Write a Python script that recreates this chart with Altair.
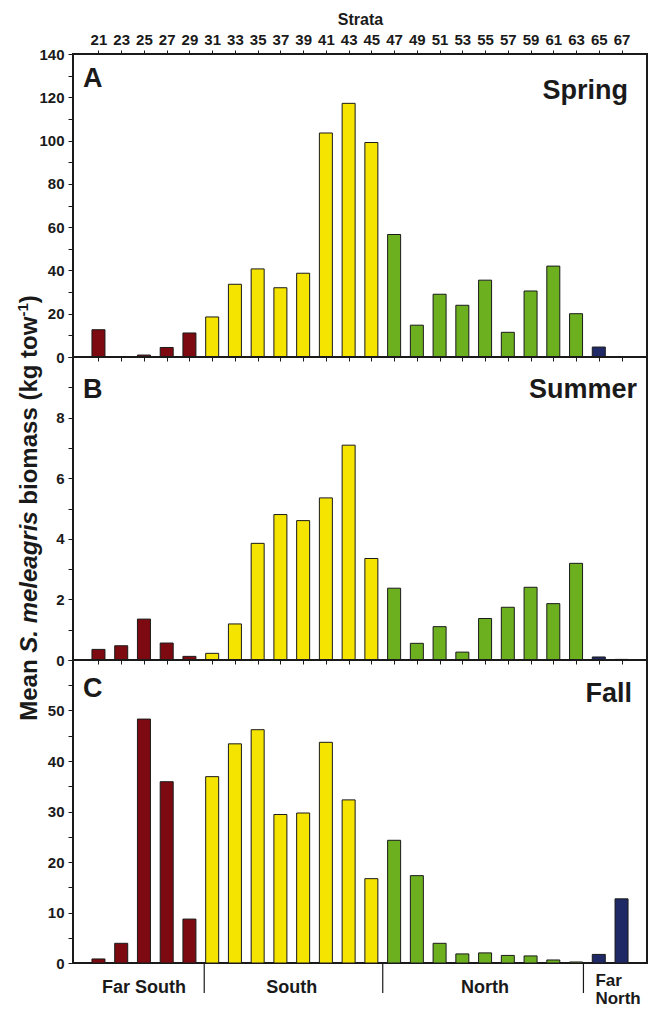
import altair as alt
import pandas as pd

# ---------------- data ----------------
strata = list(range(21, 68, 2))
regions = ["Far South"] * 5 + ["South"] * 8 + ["North"] * 9 + ["Far North"] * 2
spring = [12.6, 0.2, 0.9, 4.4, 11.1, 18.5, 33.6, 40.7, 32.0, 38.7, 103.5, 117.2,
          99.1, 56.6, 14.7, 29.0, 23.9, 35.5, 11.4, 30.5, 42.0, 20.0, 4.6, 0.0]
summer = [0.35, 0.47, 1.35, 0.56, 0.12, 0.22, 1.19, 3.85, 4.80, 4.60, 5.35, 7.09,
          3.35, 2.37, 0.55, 1.10, 0.26, 1.37, 1.74, 2.40, 1.86, 3.19, 0.10, 0.02]
fall = [0.8, 3.9, 48.3, 35.9, 8.7, 36.9, 43.4, 46.2, 29.4, 29.7, 43.7, 32.3,
        16.7, 24.3, 17.3, 3.9, 1.8, 2.0, 1.5, 1.4, 0.6, 0.2, 1.7, 12.7]

region_names = ["Far South", "South", "North", "Far North"]
region_colors = ["#7d0a10", "#f5e400", "#6cb020", "#1f2966"]

region_label_text = ["Far South", "South", "North"]
region_label_pos = [25, 38, 55]
far_north_pos = 64.7
divider_pos = [30.3, 46, 63.65]

# ---------------- layout ----------------
FONT = "Liberation Sans"
INK = "#1a1a1a"
W_PX = 574
H_PX = 303
X_DOMAIN = [19.2, 68.8]
xscale = alt.Scale(domain=X_DOMAIN, nice=False, zero=False)


def bars_layer(values, ymax, yvalues, label_expr):
    df = pd.DataFrame({"strata": strata, "value": values, "region": regions})
    return alt.Chart(df).mark_bar(size=13, stroke=INK, strokeWidth=1).encode(
        x=alt.X("strata:Q", scale=xscale,
                axis=alt.Axis(orient="bottom", values=strata, labels=False, domain=False,
                              ticks=True, tickSize=4, grid=False, title=None)),
        y=alt.Y("value:Q", scale=alt.Scale(domain=[0, ymax], nice=False),
                axis=alt.Axis(values=yvalues, labelExpr=label_expr, title=None, domain=False,
                              tickSize=5, grid=False, labelPadding=4, labelOverlap=False)),
        color=alt.Color("region:N", scale=alt.Scale(domain=region_names, range=region_colors),
                        legend=None),
    )


def label(text, x, y, size, align="left", style="normal", baseline="alphabetic", angle=0):
    return alt.Chart(pd.DataFrame({"t": [text]})).mark_text(
        font=FONT, fontWeight="bold", fontSize=size, align=align, baseline=baseline,
        fontStyle=style, angle=angle, color=INK
    ).encode(text="t:N", x=alt.value(x), y=alt.value(y))


# ---- panel A ----
barsA = bars_layer(spring, 140, list(range(0, 141, 10)),
                   "datum.value % 20 == 0 ? datum.label : ''")
topAxis = alt.Chart(pd.DataFrame({"strata": strata})).mark_point(opacity=0).encode(
    x=alt.X("strata:Q", scale=xscale,
            axis=alt.Axis(orient="top", values=strata, title="Strata", titleFontSize=16,
                          titleFontWeight="bold", titleFont=FONT, titleColor=INK,
                          tickSize=4, labelPadding=3, titlePadding=5, domain=False,
                          grid=False, labelOverlap=False, labelFlush=False)),
)
panelA = alt.layer(
    barsA, topAxis,
    label("A", 10, 33, 27),
    label("Spring", 555, 45, 27, align="right"),
).resolve_axis(x="independent").properties(width=W_PX, height=H_PX)

# ---- panel B (with y title) ----
barsB = bars_layer(summer, 10, list(range(0, 11)),
                   "datum.value % 2 == 0 && datum.value < 10 ? datum.label : ''")

AW = {'M': 833, 'e': 556, 'a': 556, 'n': 611, ' ': 278, 'S': 667, '.': 278, 'm': 889,
      'l': 278, 'g': 611, 'r': 389, 'i': 278, 's': 556, 'b': 611, 'o': 611, '(': 333,
      'k': 556, 't': 333, 'w': 778, ')': 333, '-': 333, '1': 556}


def tw(s, fs):
    return sum(AW.get(c, 556) for c in s) * fs / 1000.0


TFS = 24
SUPFS = 15
segs = [("Mean", "normal", TFS, 0, tw(" ", TFS)),
        ("S. meleagris", "italic", TFS, 0, tw(" ", TFS)),
        ("biomass (kg tow", "normal", TFS, 0, 0.0),
        ("-1", "normal", SUPFS, -9, 0.0),
        (")", "normal", TFS, 0, 0.0)]
total = sum(tw(s, f) + gap for s, _, f, _, gap in segs)
title_center = 151
title_x = -36
ycur = title_center + total / 2
title_layers = []
for s, st, f, dx, gap in segs:
    title_layers.append(label(s, title_x + dx, ycur, f, align="left", style=st, angle=270))
    ycur -= tw(s, f) + gap

panelB = alt.layer(
    barsB,
    label("B", 10, 41, 27),
    label("Summer", 564, 41, 27, align="right"),
    *title_layers,
).properties(width=W_PX, height=H_PX)

# ---- panel C (with region labels) ----
barsC = bars_layer(fall, 60, list(range(0, 61, 5)),
                   "datum.value % 10 == 0 && datum.value < 60 ? datum.label : ''")
reg_df = pd.DataFrame({"pos": region_label_pos, "t": region_label_text})
regLabels = alt.Chart(reg_df).mark_text(
    font=FONT, fontWeight="bold", fontSize=18, align="center", baseline="middle", color=INK
).encode(x=alt.X("pos:Q", scale=xscale, axis=None), y=alt.value(328), text="t:N")
farNorth1 = alt.Chart(pd.DataFrame({"pos": [far_north_pos], "t": ["Far"]})).mark_text(
    font=FONT, fontWeight="bold", fontSize=17, align="left", baseline="middle", color=INK
).encode(x=alt.X("pos:Q", scale=xscale, axis=None), y=alt.value(321), text="t:N")
farNorth2 = alt.Chart(pd.DataFrame({"pos": [far_north_pos], "t": ["North"]})).mark_text(
    font=FONT, fontWeight="bold", fontSize=17, align="left", baseline="middle", color=INK
).encode(x=alt.X("pos:Q", scale=xscale, axis=None), y=alt.value(339), text="t:N")
dividers = alt.Chart(pd.DataFrame({"pos": divider_pos})).mark_rule(
    color=INK, strokeWidth=1.2
).encode(x=alt.X("pos:Q", scale=xscale, axis=None), y=alt.value(304), y2=alt.value(333))

panelC = alt.layer(
    barsC,
    label("C", 10, 37, 27),
    label("Fall", 559, 42, 27, align="right"),
    regLabels, farNorth1, farNorth2, dividers,
).properties(width=W_PX, height=H_PX)

chart = alt.vconcat(panelA, panelB, panelC, spacing=0, bounds="flush").properties(
    padding={"left": 15, "top": 10, "right": 0, "bottom": 0}
).configure_view(
    stroke=INK, strokeWidth=2
).configure_axis(
    labelFont=FONT, labelFontWeight="bold", labelFontSize=15, labelColor=INK,
    tickColor=INK, tickWidth=1
)

chart.save("out.html", embed_options={"renderer": "svg", "actions": False})
